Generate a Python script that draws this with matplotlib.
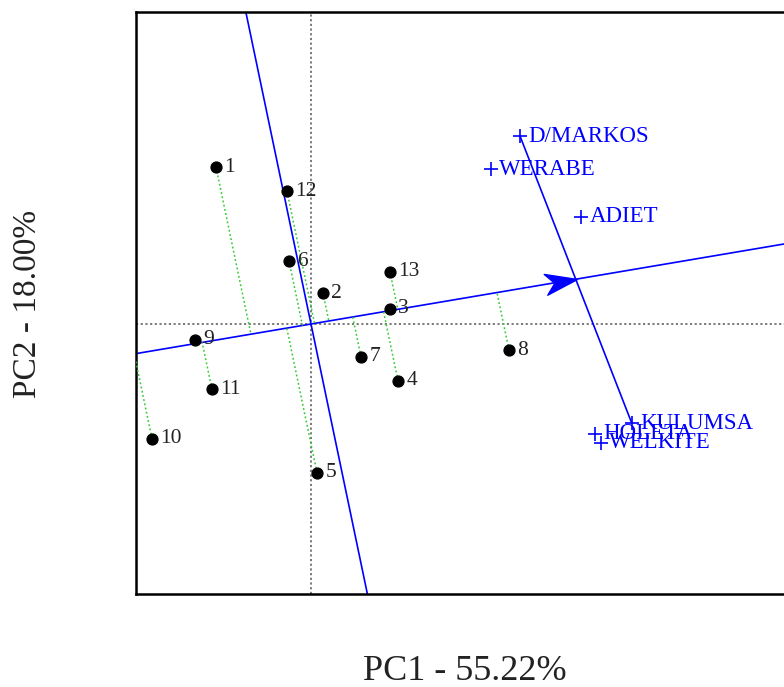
import numpy as np
import matplotlib
matplotlib.use('Agg')
import matplotlib.pyplot as plt
from matplotlib.path import Path
from matplotlib.markers import MarkerStyle
from matplotlib.transforms import Affine2D

# ---- data ----
genotypes = ['1', '2', '3', '4', '5', '6', '7', '8', '9', '10', '11', '12', '13']
gen_pc1 = [-0.95, 0.12, 0.79, 0.87, 0.06, -0.22, 0.50, 1.98, -1.16, -1.59, -0.99, -0.24, 0.79]
gen_pc2 = [1.744, 0.344, 0.172, -0.630, -1.652, 0.700, -0.363, -0.289, -0.174, -1.274, -0.726, 1.474, 0.578]

environments = ['D/MARKOS', 'WERABE', 'ADIET', 'KULUMSA', 'HOLETA', 'WELKITE']
env_pc1 = [2.09, 1.80, 2.70, 3.207, 2.84, 2.90]
env_pc2 = [2.089, 1.719, 1.192, -1.100, -1.219, -1.322]

avg_env = [2.66, 0.50]          # average-environment coordinate (arrow tip)
xlabel_text = 'PC1 - 55.22%'
ylabel_text = 'PC2 - 18.00%'
xlim = (-1.75, 4.83)
ylim = (-3.0, 3.467)

# ---- figure ----
plt.rcParams['font.family'] = ['Liberation Serif', 'DejaVu Serif']
fig = plt.figure(figsize=(7.84, 6.87), dpi=100)
W, H = 784, 687
ax = fig.add_axes([136 / W, (H - 594) / H, (794 - 136) / W, (594 - 12) / H])
ax.set_xlim(*xlim)
ax.set_ylim(*ylim)
ax.set_xticks([])
ax.set_yticks([])
for s in ['left', 'top', 'bottom']:
    ax.spines[s].set_linewidth(1.8)
    ax.spines[s].set_color('black')
ax.spines['right'].set_visible(False)

# origin reference lines
ax.axhline(0, color='#707070', ls=(0, (1.2, 1.4)), lw=1.3, zorder=1)
ax.axvline(0, color='#707070', ls=(0, (1.2, 1.4)), lw=1.3, zorder=1)

# average environment axis and its perpendicular
a = np.array(avg_env, dtype=float)
u = a / np.linalg.norm(a)
v = np.array([-u[1], u[0]])
L = 20
ax.plot([-L * u[0], L * u[0]], [-L * u[1], L * u[1]], color='blue', lw=1.2, zorder=2)
ax.plot([-L * v[0], L * v[0]], [-L * v[1], L * v[1]], color='blue', lw=1.2, zorder=2)

# segment between D/MARKOS and KULUMSA
i0, i1 = environments.index('D/MARKOS'), environments.index('KULUMSA')
ax.plot([env_pc1[i0], env_pc1[i1]], [env_pc2[i0], env_pc2[i1]], color='blue', lw=1.2, zorder=2)

# projections of genotypes onto the AEA
gx = np.array(gen_pc1)
gy = np.array(gen_pc2)
for x, y in zip(gx, gy):
    t = x * u[0] + y * u[1]
    ax.plot([x, t * u[0]], [y, t * u[1]], color='#33cc33', ls=(0, (1.2, 1.6)), lw=1.1, zorder=3)

# arrow head (stealth) at the average environment
fig.canvas.draw()
p0 = ax.transData.transform((0, 0))
p1 = ax.transData.transform(a)
ang = np.degrees(np.arctan2(p1[1] - p0[1], p1[0] - p0[0]))
verts = [(0, 0), (-1, 0.33), (-0.72, 0), (-1, -0.33), (0, 0)]
codes = [Path.MOVETO, Path.LINETO, Path.LINETO, Path.LINETO, Path.CLOSEPOLY]
arrow_marker = MarkerStyle(Path(verts, codes), transform=Affine2D().rotate_deg(ang))
ax.plot([a[0]], [a[1]], marker=arrow_marker, markersize=46, color='blue', mec='blue', zorder=5)

# genotype points
ax.plot(gx, gy, 'o', color='black', markersize=7.8, zorder=6)
for lab, x, y in zip(genotypes, gx, gy):
    ax.annotate(lab, (x, y), xytext=(6, 0), textcoords='offset points',
                ha='left', va='center', fontsize=15.5, color='#222222', zorder=7)

# environments
ax.plot(env_pc1, env_pc2, '+', color='blue', markersize=10, mew=1.2, zorder=6)
for lab, x, y in zip(environments, env_pc1, env_pc2):
    ax.annotate(lab, (x, y), xytext=(6, 0), textcoords='offset points',
                ha='left', va='center', fontsize=16.5, color='blue', zorder=7)

fig.text(465 / W, (H - 672) / H, xlabel_text, ha='center', va='center', fontsize=26, color='#222222')
fig.text(28 / W, (H - 304) / H, ylabel_text, ha='center', va='center', rotation=90, fontsize=24, color='#222222')

fig.savefig('out.png', dpi=100)
